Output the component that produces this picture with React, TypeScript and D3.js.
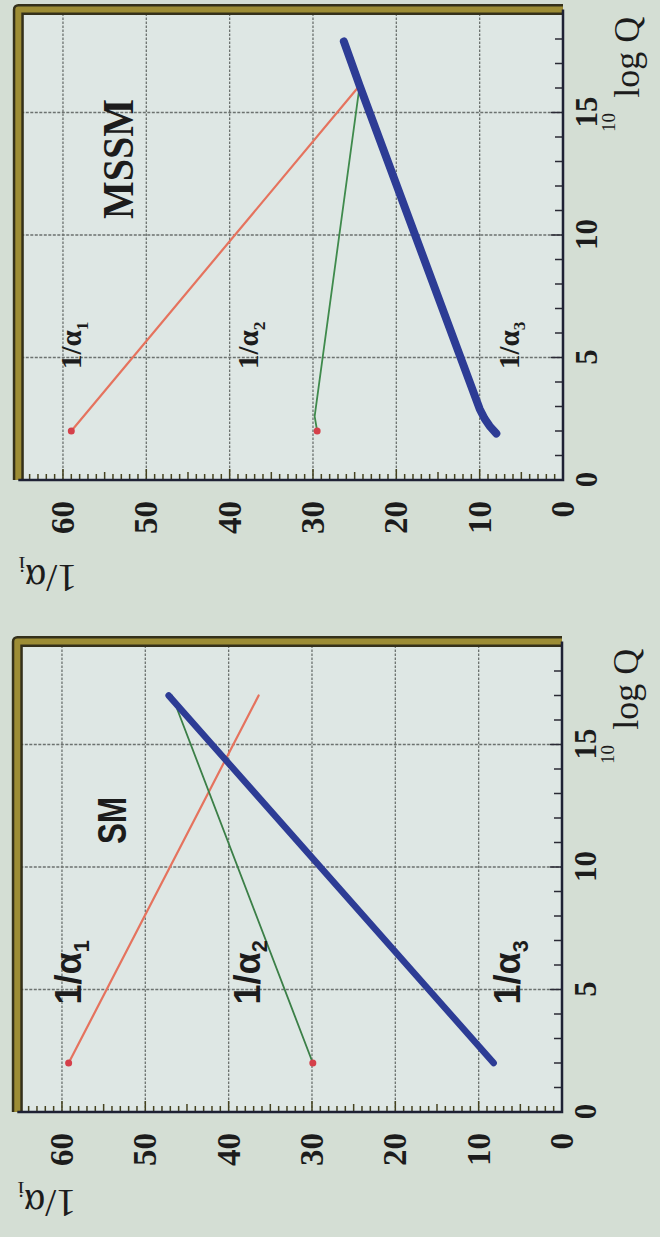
import * as d3 from "d3";
import { useEffect, useRef } from "react";

// log10(Q) sample points and 1/alpha_i values
const smQ = [2.0, 17.0];
const smInvAlpha1 = [59.2, 36.4];
const smInvAlpha2 = [29.9, 46.8];
const smInvAlpha3 = [8.2, 47.2];

const mssmQ1 = [2.0, 16.1];
const mssmInvAlpha1 = [59.0, 24.4];
const mssmQ2 = [2.0, 2.6, 16.1];
const mssmInvAlpha2 = [29.5, 29.8, 24.4];
const mssmQ3 = [1.9, 2.2, 2.5, 2.9, 16.1, 17.9];
const mssmInvAlpha3 = [8.0, 8.8, 9.4, 10.0, 24.4, 26.3];

const qTicks = [0, 5, 10, 15];
const invAlphaTicks = [0, 10, 20, 30, 40, 50, 60];
const couplingIndex = ["1", "2", "3"];

const smLabelQ = 5.7;
const smLabelAt = [59.2, 37.8, 6.5];
const mssmLabelQ = 5.5;
const mssmLabelAt = [59.0, 37.8, 6.5];

const W = 660;
const H = 1237;
const PW = 465.5; // log Q 0..19
const PH = 541.7; // 1/alpha 0..65

const SERIF = "'Liberation Serif', 'DejaVu Serif', serif";
const SANS = "'Liberation Sans', Arial, sans-serif";

const panels = [
  {
    title: "MSSM",
    ox: 563,
    oy: 480,
    titleFont: SERIF,
    titleSize: 44,
    titleLen: 120,
    titleQ: 13.1,
    titleAt: 53.4,
    labelFont: SERIF,
    labelSize: 29,
    labelQ: mssmLabelQ,
    labelAt: mssmLabelAt,
    yTitleBase: -85,
    series: [
      { q: mssmQ1, v: mssmInvAlpha1, color: "#e5735e", width: 2.2, dot: true },
      { q: mssmQ2, v: mssmInvAlpha2, color: "#3f8a4c", width: 1.8, dot: true },
      { q: mssmQ3, v: mssmInvAlpha3, color: "#2d3c95", width: 8, dot: false },
    ],
  },
  {
    title: "SM",
    ox: 562,
    oy: 1112,
    titleFont: SANS,
    titleSize: 40,
    titleLen: 47,
    titleQ: 11.9,
    titleAt: 54,
    labelFont: SANS,
    labelSize: 36,
    labelQ: smLabelQ,
    labelAt: smLabelAt,
    yTitleBase: -78,
    series: [
      { q: smQ, v: smInvAlpha1, color: "#e5735e", width: 2.2, dot: true },
      { q: smQ, v: smInvAlpha2, color: "#3b7f47", width: 1.8, dot: true },
      { q: smQ, v: smInvAlpha3, color: "#2d3c95", width: 6.5, dot: false },
    ],
  },
];

const drawPanel = (svg, p) => {
  // chart is drawn upright, then turned a quarter turn counter-clockwise
  const g = svg
    .append("g")
    .attr("transform", `translate(${p.ox - PH},${p.oy}) rotate(-90)`);

  const x = d3.scaleLinear().domain([0, 19]).range([0, PW]);
  const y = d3.scaleLinear().domain([0, 65]).range([PH, 0]);

  g.append("rect")
    .attr("width", PW)
    .attr("height", PH)
    .attr("fill", "#dee7e4");

  // grid
  g.selectAll("line.hgrid")
    .data(invAlphaTicks.filter((d) => d > 0))
    .join("line")
    .attr("x1", 0)
    .attr("x2", PW)
    .attr("y1", (d) => y(d))
    .attr("y2", (d) => y(d))
    .attr("stroke", "#6c726f")
    .attr("stroke-width", 1.3)
    .attr("stroke-dasharray", "2.5 1.5");

  g.selectAll("line.vgrid")
    .data(qTicks.filter((d) => d > 0))
    .join("line")
    .attr("x1", (d) => x(d))
    .attr("x2", (d) => x(d))
    .attr("y1", 0)
    .attr("y2", PH)
    .attr("stroke", "#6c726f")
    .attr("stroke-width", 1.6)
    .attr("stroke-dasharray", "3 1.5");

  // olive frame on top and right
  g.append("path")
    .attr("d", `M0,-3 H${PW + 5} V${PH}`)
    .attr("fill", "none")
    .attr("stroke", "#34301a")
    .attr("stroke-width", 11)
    .attr("stroke-linejoin", "round");
  g.append("path")
    .attr("d", `M0,-3 H${PW + 5} V${PH}`)
    .attr("fill", "none")
    .attr("stroke", "#9d8d35")
    .attr("stroke-width", 6)
    .attr("stroke-linejoin", "round");

  // ticks, pointing inward
  g.selectAll("line.atick")
    .data(d3.range(1, 65))
    .join("line")
    .attr("x1", 0)
    .attr("x2", (d) => (d % 10 === 0 ? 11 : d % 5 === 0 ? 8 : 6))
    .attr("y1", (d) => y(d))
    .attr("y2", (d) => y(d))
    .attr("stroke", "#45421f")
    .attr("stroke-width", 1.5);

  g.selectAll("line.qtick")
    .data(d3.range(1, 19))
    .join("line")
    .attr("x1", (d) => x(d))
    .attr("x2", (d) => x(d))
    .attr("y1", PH)
    .attr("y2", (d) => PH - (d % 5 === 0 ? 12 : 8))
    .attr("stroke", "#2a2a35")
    .attr("stroke-width", 1.5);

  // axis lines
  g.append("path")
    .attr("d", `M0,-3 V${PH} H${PW + 5}`)
    .attr("fill", "none")
    .attr("stroke", "#1e2134")
    .attr("stroke-width", 2.5);

  // tick labels
  const ya = g
    .append("g")
    .call(d3.axisLeft(y).tickValues(invAlphaTicks).tickSize(0).tickPadding(21));
  ya.select(".domain").remove();
  ya.selectAll("text")
    .attr("font-family", SERIF)
    .attr("font-size", 33)
    .attr("font-weight", "bold")
    .attr("fill", "#1c1c1c");

  const xa = g
    .append("g")
    .attr("transform", `translate(0,${PH})`)
    .call(d3.axisBottom(x).tickValues(qTicks).tickSize(0).tickPadding(12));
  xa.select(".domain").remove();
  xa.selectAll("text")
    .attr("font-family", SERIF)
    .attr("font-size", 31)
    .attr("font-weight", "bold")
    .attr("fill", "#1c1c1c");

  // axis titles
  const yt = g
    .append("text")
    .attr("transform", `translate(${p.yTitleBase},${y(61.8)}) rotate(-90)`)
    .attr("text-anchor", "middle")
    .attr("font-family", SERIF)
    .attr("font-size", 40)
    .attr("fill", "#1c1c1c");
  yt.append("tspan").text("1/α");
  yt.append("tspan").attr("font-size", 24).attr("dy", 8).text("i");

  const xt = g
    .append("text")
    .attr("font-family", SERIF)
    .attr("fill", "#1c1c1c");
  xt.append("tspan")
    .attr("x", x(14.2))
    .attr("y", PH + 52)
    .attr("font-size", 19)
    .text("10");
  xt.append("tspan")
    .attr("x", x(15.6))
    .attr("y", PH + 76)
    .attr("font-size", 36)
    .text("log Q");

  // curves
  const line = d3
    .line()
    .x((d) => x(d[0]))
    .y((d) => y(d[1]));

  p.series.forEach((s) => {
    const pts = s.q.map((q, i) => [q, s.v[i]]);
    g.append("path")
      .attr("d", line(pts))
      .attr("fill", "none")
      .attr("stroke", s.color)
      .attr("stroke-width", s.width)
      .attr("stroke-linecap", "round")
      .attr("stroke-linejoin", "round");
    if (s.dot) {
      g.append("circle")
        .attr("cx", x(pts[0][0]))
        .attr("cy", y(pts[0][1]))
        .attr("r", 3.5)
        .attr("fill", "#d5404a");
    }
  });

  // curve labels
  p.labelAt.forEach((v, i) => {
    const t = g
      .append("text")
      .attr("x", x(p.labelQ))
      .attr("y", y(v) + p.labelSize * 0.35)
      .attr("text-anchor", "middle")
      .attr("font-family", p.labelFont)
      .attr("font-weight", "bold")
      .attr("font-size", p.labelSize)
      .attr("fill", "#1c1c1c");
    t.append("tspan").text("1/α");
    t.append("tspan")
      .attr("font-size", p.labelSize * 0.6)
      .attr("dy", p.labelSize * 0.22)
      .text(couplingIndex[i]);
  });

  // panel title
  g.append("text")
    .attr("x", x(p.titleQ))
    .attr("y", y(p.titleAt) + p.titleSize * 0.34)
    .attr("text-anchor", "middle")
    .attr("font-family", p.titleFont)
    .attr("font-weight", "bold")
    .attr("font-size", p.titleSize)
    .attr("textLength", p.titleLen)
    .attr("lengthAdjust", "spacingAndGlyphs")
    .attr("fill", "#1c1c1c")
    .text(p.title);
};

const App = () => {
  const svgRef = useRef(null);

  useEffect(() => {
    const svg = d3.select(svgRef.current);
    svg.selectAll("*").remove();

    svg.append("rect").attr("width", W).attr("height", H).attr("fill", "#d4ded4");

    panels.forEach((p) => drawPanel(svg, p));
  }, []);

  return (
    <svg
      ref={svgRef}
      width={W}
      height={H}
      style={{ position: "absolute", left: 0, top: 0, display: "block" }}
    />
  );
};

export default App;
